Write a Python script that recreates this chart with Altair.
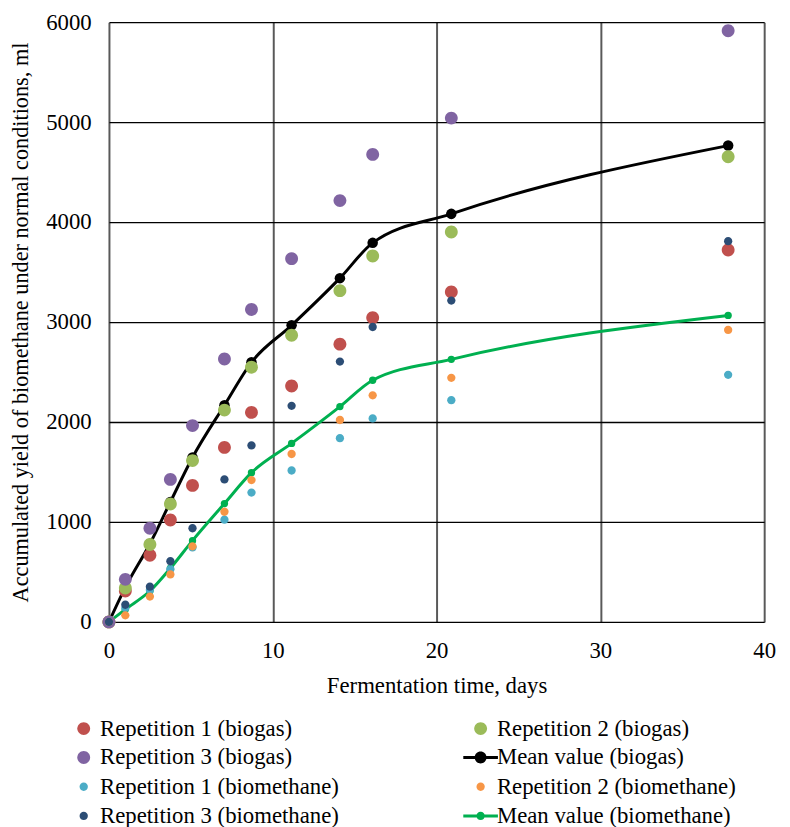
import altair as alt
import pandas as pd

# ---------------- data ----------------
days = [0, 1.0, 2.5, 3.75, 5.1, 7.05, 8.7, 11.15, 14.1, 16.1, 20.9, 37.8]

rep1_biogas = [0, 310, 667, 1020, 1366, 1746, 2096, 2360, 2779, 3043, 3300, 3720]
rep2_biogas = [0, 340, 775, 1180, 1614, 2119, 2548, 2868, 3314, 3660, 3901, 4653]
rep3_biogas = [0, 426, 937, 1426, 1964, 2630, 3125, 3634, 4215, 4677, 5040, 5914]
mean_biogas = [0, 345, 782, 1200, 1645, 2168, 2597, 2967, 3439, 3792, 4082, 4765]

rep1_methane = [0, 139, 320, 528, 745, 1023, 1294, 1515, 1838, 2036, 2218, 2472]
rep2_methane = [0, 66, 254, 475, 756, 1102, 1419, 1680, 2020, 2267, 2442, 2921]
rep3_methane = [0, 172, 353, 607, 937, 1426, 1766, 2162, 2604, 2950, 3215, 3809]
mean_methane = [0, 126, 309, 537, 813, 1184, 1493, 1786, 2154, 2418, 2627, 3066]

series_names = [
    "Repetition 1 (biogas)", "Repetition 2 (biogas)",
    "Repetition 3 (biogas)", "Mean value (biogas)",
    "Repetition 1 (biomethane)", "Repetition 2 (biomethane)",
    "Repetition 3 (biomethane)", "Mean value (biomethane)",
]
series_values = [rep1_biogas, rep2_biogas, rep3_biogas, mean_biogas,
                 rep1_methane, rep2_methane, rep3_methane, mean_methane]
series_colors = ["#C0504D", "#9BBB59", "#8064A2", "#000000",
                 "#4BACC6", "#F79646", "#2C4D75", "#00B050"]

# legend fills column by column: this order gives the reference's row-wise layout
legend_order = [0, 2, 4, 6, 1, 3, 5, 7]

x_ticks = [0, 10, 20, 30, 40]
y_ticks = [0, 1000, 2000, 3000, 4000, 5000, 6000]

FONT = "Liberation Serif"
FS = 23


# ---------------- symbol paths (unit = sqrt(400)/2 = 10 px) ----------------
def circle(r):
    return f"M{-r},0A{r},{r} 0 1,1 {r},0A{r},{r} 0 1,1 {-r},0Z"


def line_dot(r, h=0.15, half=1.75):
    inner = round((r * r - h * h) ** 0.5 - 0.01, 3)
    left = f"M{-half},{-h}L{-inner},{-h}L{-inner},{h}L{-half},{h}Z"
    right = f"M{inner},{-h}L{half},{-h}L{half},{h}L{inner},{h}Z"
    return left + circle(r) + right


shape_paths = [circle(0.65), circle(0.65), circle(0.65), line_dot(0.6),
               circle(0.42), circle(0.42), circle(0.42), line_dot(0.42)]

rows = []
for k, (name, vals) in enumerate(zip(series_names, series_values)):
    for d, v in zip(days, vals):
        rows.append({"day": d, "value": v, "series": name, "ord": k})
df = pd.DataFrame(rows)

mean_names = [series_names[3], series_names[7]]
df_reps = df[~df["series"].isin(mean_names)]

dom = [series_names[i] for i in legend_order]
color_scale = alt.Scale(domain=dom, range=[series_colors[i] for i in legend_order])
shape_scale = alt.Scale(domain=dom, range=[shape_paths[i] for i in legend_order])

x_enc = alt.X(
    "day:Q",
    scale=alt.Scale(domain=[0, 40], nice=False),
    axis=alt.Axis(
        values=x_ticks, title="Fermentation time, days", grid=True,
        gridColor="#595959", gridWidth=2, domain=False, ticks=False,
        labelFlush=False, labelFont=FONT, labelFontSize=FS, labelColor="black",
        labelPadding=18, titleFont=FONT, titleFontSize=FS, titleFontWeight="normal",
        titleColor="black", titlePadding=12, format="d",
    ),
)
y_enc = alt.Y(
    "value:Q",
    scale=alt.Scale(domain=[0, 6000], nice=False),
    axis=alt.Axis(
        values=y_ticks, title="Accumulated yield of biomethane under normal conditions, ml",
        grid=True, gridColor="black", gridWidth=1.3, domain=False, ticks=False,
        labelFlush=False, labelFont=FONT, labelFontSize=FS, labelColor="black",
        labelPadding=18, titleFont=FONT, titleFontSize=22.5, titleFontWeight="normal",
        titleColor="black", titlePadding=13, format="d",
    ),
)

legend_cfg = dict(
    title=None, orient="none", legendX=-37, legendY=702, columns=2,
    symbolSize=400, symbolStrokeWidth=0, labelFont=FONT, labelFontSize=FS,
    labelColor="black", labelOffset=5, labelLimit=600, columnPadding=125,
    rowPadding=5.5, padding=0,
)

layers = []
for name, col, dot in [(mean_names[0], "#000000", 113), (mean_names[1], "#00B050", 55)]:
    base = alt.Chart(df).transform_filter(alt.datum.series == name)
    layers.append(base.mark_line(interpolate="monotone", strokeWidth=3, color=col).encode(x=x_enc, y=y_enc))
    layers.append(base.mark_point(filled=True, opacity=1, shape="circle", size=dot, color=col).encode(x=x_enc, y=y_enc))

scatter = alt.Chart(df_reps).mark_point(filled=True, opacity=1, size=400, strokeWidth=0).encode(
    x=x_enc, y=y_enc,
    color=alt.Color("series:N", scale=color_scale, legend=alt.Legend(**legend_cfg)),
    shape=alt.Shape("series:N", scale=shape_scale, legend=alt.Legend(**legend_cfg)),
    order=alt.Order("ord:Q"),
)
layers.append(scatter)

chart = alt.layer(*layers).properties(
    width=662, height=606,
    autosize=alt.AutoSizeParams(type="none"),
    padding={"left": 102, "top": 10, "right": 18, "bottom": 212},
).configure_view(stroke=None)

chart.save("out.html", embed_options={"renderer": "svg", "actions": False})
